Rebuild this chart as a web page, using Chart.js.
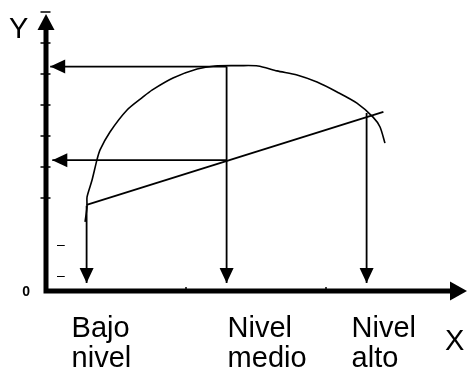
<!DOCTYPE html>
<html>
<head>
<meta charset="utf-8">
<script src="https://cdn.jsdelivr.net/npm/chart.js@4.4.1/dist/chart.umd.min.js"></script>
<style>
  html, body { margin: 0; padding: 0; background: #fff; }
  canvas { display: block; }
</style>
</head>
<body>
<canvas id="chart" width="467" height="372"></canvas>
<script>
// curve (abstract units)
const curveX = [2.79, 2.93, 2.93, 3.29, 3.64, 3.86, 4.57, 5.79, 6.93, 7.57, 9.07, 10.79, 12.07, 13.86, 15.14, 16.5, 17.93, 19.36, 20.79, 22.21, 23.36, 23.86, 24.21];
const curveY = [2.23, 2.71, 3.03, 3.58, 4.23, 4.55, 5.13, 5.84, 6.26, 6.48, 6.87, 7.16, 7.26, 7.27, 7.26, 7.10, 6.97, 6.74, 6.42, 6.06, 5.61, 5.29, 4.77];

// straight line
const lineX = [2.9, 24.1];
const lineY = [2.78, 5.78];

// arrows, start -> tip
const arrowFromX = [12.9, 12.9, 2.9, 12.9, 22.9];
const arrowFromY = [7.24, 4.22, 2.75, 7.24, 5.74];
const arrowToX = [0.3, 0.45, 2.9, 12.9, 22.9];
const arrowToY = [7.24, 4.22, 0.26, 0.26, 0.26];

const categories = [['Bajo', 'nivel'], ['Nivel', 'medio'], ['Nivel', 'alto']];
const categoryX = [2.9, 12.9, 22.9];
const yTicks = [3, 4, 5, 6, 7, 8, 9];
const xTicks = [10, 20];
const yDashes = [1.5, 0.5];

const toPoints = (xs, ys) => xs.map((x, i) => ({ x: x, y: ys[i] }));

const datasets = [
    { data: toPoints(curveX, curveY), borderWidth: 1.6, tension: 0.25 },
    { data: toPoints(lineX, lineY), borderWidth: 1.8 }
];
arrowFromX.forEach(function(x, i) {
    datasets.push({
        data: toPoints([x, arrowToX[i]], [arrowFromY[i], arrowToY[i]]),
        borderWidth: 1.8,
        arrow: true
    });
});
datasets.forEach(function(d) {
    d.borderColor = '#000';
    d.pointRadius = 0;
    d.fill = false;
    d.clip = false;
});

const FONT = '"Liberation Sans", Arial, sans-serif';

const sketch = {
    id: 'sketch',
    afterDatasetsDraw(chart) {
        const ctx = chart.ctx;
        const xs = chart.scales.x, ys = chart.scales.y;
        const x0 = xs.getPixelForValue(0), y0 = ys.getPixelForValue(0);
        const xEnd = xs.getPixelForValue(xs.max), yTop = ys.getPixelForValue(ys.max);
        ctx.save();
        ctx.fillStyle = '#000';
        ctx.strokeStyle = '#000';

        // arrowheads on arrow datasets
        chart.data.datasets.forEach(function(d, i) {
            if (!d.arrow) return;
            const pts = chart.getDatasetMeta(i).data;
            const a = pts[0], b = pts[1];
            const ang = Math.atan2(b.y - a.y, b.x - a.x);
            const len = 15, half = 7;
            ctx.beginPath();
            ctx.moveTo(b.x, b.y);
            ctx.lineTo(b.x - len * Math.cos(ang) + half * Math.sin(ang), b.y - len * Math.sin(ang) - half * Math.cos(ang));
            ctx.lineTo(b.x - len * Math.cos(ang) - half * Math.sin(ang), b.y - len * Math.sin(ang) + half * Math.cos(ang));
            ctx.closePath();
            ctx.fill();
        });

        // axes
        ctx.lineWidth = 5;
        ctx.beginPath();
        ctx.moveTo(x0, y0 + 2.5);
        ctx.lineTo(x0, yTop + 18);
        ctx.moveTo(x0 - 2.5, y0);
        ctx.lineTo(xEnd - 16, y0);
        ctx.stroke();
        ctx.beginPath();
        ctx.moveTo(x0, yTop + 2);
        ctx.lineTo(x0 - 8.5, yTop + 18);
        ctx.lineTo(x0 + 8.5, yTop + 18);
        ctx.closePath();
        ctx.fill();
        ctx.beginPath();
        ctx.moveTo(xEnd + 1, y0);
        ctx.lineTo(xEnd - 16, y0 - 9.5);
        ctx.lineTo(xEnd - 16, y0 + 9.5);
        ctx.closePath();
        ctx.fill();

        // tick marks
        ctx.lineWidth = 1.5;
        ctx.beginPath();
        yTicks.forEach(function(v) {
            const y = ys.getPixelForValue(v);
            ctx.moveTo(x0 - 5.5, y);
            ctx.lineTo(x0 + 4.5, y);
        });
        xTicks.forEach(function(v) {
            const x = xs.getPixelForValue(v);
            ctx.moveTo(x, y0 - 4);
            ctx.lineTo(x, y0);
        });
        ctx.stroke();

        // texts
        ctx.textBaseline = 'alphabetic';
        ctx.font = '14px ' + FONT;
        ctx.textAlign = 'left';
        yDashes.forEach(function(v) {
            ctx.fillText('\u2013', x0 + 11, ys.getPixelForValue(v) + 4.5);
        });
        ctx.font = 'bold 14px ' + FONT;
        ctx.textAlign = 'right';
        ctx.fillText('0', x0 - 16, y0 + 5);

        ctx.font = '29px ' + FONT;
        ctx.textAlign = 'left';
        const shift = [-15, 1, -15];
        categories.forEach(function(lines, i) {
            const x = xs.getPixelForValue(categoryX[i]) + shift[i];
            lines.forEach(function(t, k) {
                ctx.fillText(t, x, y0 + 46 + k * 30);
            });
        });
        ctx.fillText('X', xEnd - 21, y0 + 59);
        ctx.fillText('Y', x0 - 37, yTop + 26);
        ctx.restore();
    }
};

new Chart(document.getElementById('chart'), {
    type: 'line',
    data: { datasets: datasets },
    options: {
        responsive: false,
        animation: false,
        events: [],
        layout: { padding: { left: 46, right: 1, top: 12, bottom: 81 } },
        plugins: { legend: { display: false }, tooltip: { enabled: false } },
        scales: {
            x: { type: 'linear', min: 0, max: 30, display: false },
            y: { type: 'linear', min: 0, max: 9, display: false }
        }
    },
    plugins: [sketch]
});
</script>
</body>
</html>
